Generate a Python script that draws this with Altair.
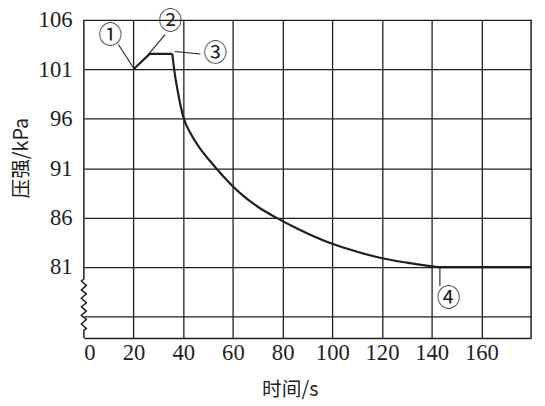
import altair as alt
import pandas as pd

# pressure curve (time s, pressure kPa): rising part (polyline) and decay (smooth)
t_rise = [20, 26.5, 35.6]
p_rise = [101, 102.55, 102.55]
t_fall = [35.6, 36.4, 37.7, 40, 43, 47, 50.9, 52.9, 57.5, 60, 64.2, 70, 77.4, 85, 90.9, 100, 110, 120, 130, 138, 143, 180]
p_fall = [102.55, 100.9, 98.9, 96.2, 94.5, 92.9, 91.7, 91.1, 89.8, 89.15, 88.2, 87.1, 86.0, 85.0, 84.3, 83.35, 82.55, 81.9, 81.45, 81.15, 81.0, 81.0]

x_ticks = [0, 20, 40, 60, 80, 100, 120, 140, 160]
y_ticks = [76, 81, 86, 91, 96, 101, 106]

# left axis with break (zigzag)
brk_x = [0, 0, -1, 1, -1, 1, -1, 1, -1, 1, -1, 1, -1, 1, 0, 0]
brk_y = [106, 79.8, 79.6, 79.15, 78.7, 78.3, 77.85, 77.4, 77.0, 76.55, 76.1, 75.7, 75.25, 74.8, 74.6, 73.83]

# right border
rb_x = [180]
rb_y = [73.83]
rb_y2 = [106]

# leader lines
ld_x = [13.9, 32.7, 36.6, 143.3]
ld_y = [103.5, 104.5, 102.8, 81.0]
ld_x2 = [19.8, 25.8, 46.9, 143.3]
ld_y2 = [101.2, 102.45, 102.55, 79.1]

# labels
lab_text = ["①", "②", "③", "④"]
lab_x = [10.6, 34.8, 52.9, 146.8]
lab_y = [104.4, 105.8, 102.5, 77.8]

XD = [0, 180]
YD = [73.83, 106]
ink = "#1e1e1e"
serif = "'Liberation Serif', 'Times New Roman', 'DejaVu Serif', serif"
cjk = "Noto Sans CJK SC"

rise = pd.DataFrame({"t": t_rise, "p": p_rise})
fall = pd.DataFrame({"t": t_fall, "p": p_fall})
brk = pd.DataFrame({"x": brk_x, "y": brk_y, "i": list(range(len(brk_x)))})
rb = pd.DataFrame({"x": rb_x, "y": rb_y, "y2": rb_y2})
ld = pd.DataFrame({"x": ld_x, "y": ld_y, "x2": ld_x2, "y2": ld_y2})
lab = pd.DataFrame({"x": lab_x, "y": lab_y, "s": lab_text})

xs = alt.Scale(domain=XD, nice=False, zero=False)
ys = alt.Scale(domain=YD, nice=False, zero=False)

line1 = alt.Chart(rise).mark_line(color=ink, strokeWidth=2.2).encode(
    x=alt.X("t:Q", scale=xs, axis=alt.Axis(
        values=x_ticks, title="时间/s", grid=True, ticks=False, domain=True,
        domainColor=ink, domainWidth=1.5,
        gridColor=ink, gridWidth=1.3,
        gridOpacity={"condition": {"test": "datum.value == 0", "value": 0}, "value": 1},
        labelFont=serif, labelFontSize=23, labelColor=ink, labelPadding=4,
        titleFont=cjk, titleFontSize=20, titleFontWeight="normal",
        titleColor=ink, titleX=209, titleY=52, titleBaseline="middle")),
    y=alt.Y("p:Q", scale=ys, axis=alt.Axis(
        values=y_ticks, title="压强/kPa", grid=True, ticks=False, domain=False,
        gridColor=ink, gridWidth=1.3,
        labelExpr="datum.value < 80 ? '' : datum.label",
        labelFont=serif, labelFontSize=23, labelColor=ink, labelPadding=12,
        titleFont=cjk, titleFontSize=20, titleFontWeight="normal",
        titleColor=ink, titleX=-63, titleY=140, titleAngle=270, titleBaseline="middle")),
)

line2 = alt.Chart(fall).mark_line(color=ink, strokeWidth=2.2, interpolate="monotone").encode(
    x=alt.X("t:Q", scale=xs), y=alt.Y("p:Q", scale=ys))

left = alt.Chart(brk).mark_line(color=ink, strokeWidth=1.5).encode(
    x=alt.X("x:Q", scale=xs), y=alt.Y("y:Q", scale=ys), order="i:Q")

right = alt.Chart(rb).mark_rule(color=ink, strokeWidth=1.5).encode(
    x=alt.X("x:Q", scale=xs), y=alt.Y("y:Q", scale=ys), y2="y2:Q")

leaders = alt.Chart(ld).mark_rule(color=ink, strokeWidth=1.1).encode(
    x=alt.X("x:Q", scale=xs), y=alt.Y("y:Q", scale=ys), x2="x2:Q", y2="y2:Q")

labels = alt.Chart(lab).mark_text(font=cjk, fontSize=24, color=ink,
                                   align="center", baseline="middle").encode(
    x=alt.X("x:Q", scale=xs), y=alt.Y("y:Q", scale=ys), text="s:N")

chart = alt.layer(line1, line2, left, right, leaders, labels).properties(
    width=454, height=323,
    autosize=alt.AutoSizeParams(type="none"),
    padding={"left": 77, "top": 9, "right": 6, "bottom": 66},
    background="white",
).configure_view(stroke=None)

chart.save("out.html", embed_options={"renderer": "svg", "actions": False})
